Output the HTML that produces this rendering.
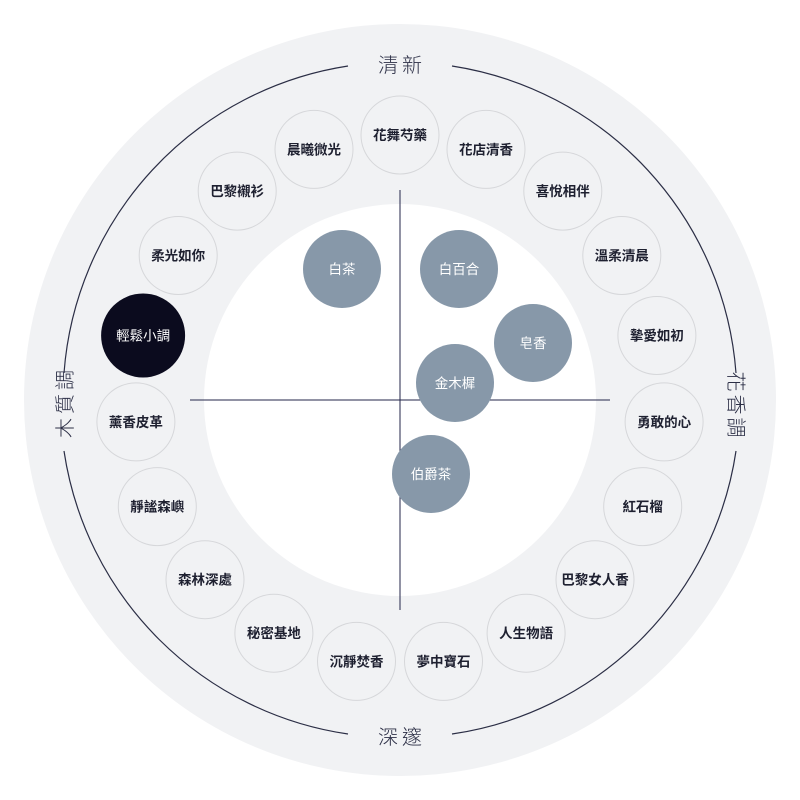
<!DOCTYPE html>
<html><head><meta charset="utf-8"><style>
html,body{margin:0;padding:0;background:#fff;}
svg{display:block;font-family:"Liberation Sans","Noto Sans CJK TC",sans-serif;}
</style></head><body>
<svg width="800" height="800" viewBox="0 0 800 800" xmlns="http://www.w3.org/2000/svg">
<circle cx="400" cy="400" r="376" fill="#f1f2f4"/>
<circle cx="400" cy="400" r="196" fill="#fff"/>
<g fill="none" stroke="#2b2e45" stroke-width="1.2">
<path d="M 348 66 A 336 336 0 0 0 64 373"/>
<path d="M 452 66 A 336 336 0 0 1 736 373"/>
<path d="M 64 451 A 336 336 0 0 0 348 734"/>
<path d="M 736 451 A 336 336 0 0 1 452 734"/>
</g>
<g fill="#2b2e45" font-size="20" font-weight="300" text-anchor="middle" letter-spacing="4">
<text x="402" y="72">清新</text>
<text x="402" y="744">深邃</text>
<text transform="translate(72,402) rotate(-90)">木質調</text>
<text transform="translate(729,406) rotate(90)" letter-spacing="3">花香調</text>
</g>
<g stroke="#23264a" stroke-width="1">
<line x1="400" y1="190" x2="400" y2="610"/>
<line x1="190" y1="400" x2="610" y2="400"/>
</g>
<g fill="#8798a9">
<circle cx="342" cy="269" r="39"/>
<circle cx="459" cy="269" r="39"/>
<circle cx="533" cy="343" r="39"/>
<circle cx="455" cy="383" r="39"/>
<circle cx="431" cy="474" r="39"/>
</g>
<g fill="#fff" font-size="13.5" text-anchor="middle">
<text x="342" y="274">白茶</text>
<text x="459" y="274">白百合</text>
<text x="533" y="348">皂香</text>
<text x="455" y="388">金木樨</text>
<text x="431" y="479">伯爵茶</text>
</g>
<g font-size="13.5" font-weight="bold" text-anchor="middle">
<circle cx="400.0" cy="135.0" r="39" fill="#f1f2f4" stroke="#d6d7da"/><text x="400.0" y="140.0" fill="#1e2030">花舞芍藥</text>
<circle cx="486.0" cy="149.4" r="39" fill="#f1f2f4" stroke="#d6d7da"/><text x="486.0" y="154.4" fill="#1e2030">花店清香</text>
<circle cx="562.8" cy="191.1" r="39" fill="#f1f2f4" stroke="#d6d7da"/><text x="562.8" y="196.1" fill="#1e2030">喜悅相伴</text>
<circle cx="621.8" cy="255.5" r="39" fill="#f1f2f4" stroke="#d6d7da"/><text x="621.8" y="260.5" fill="#1e2030">溫柔清晨</text>
<circle cx="656.9" cy="335.5" r="39" fill="#f1f2f4" stroke="#d6d7da"/><text x="656.9" y="340.5" fill="#1e2030">摯愛如初</text>
<circle cx="664.1" cy="421.9" r="39" fill="#f1f2f4" stroke="#d6d7da"/><text x="664.1" y="426.9" fill="#1e2030">勇敢的心</text>
<circle cx="642.7" cy="506.6" r="39" fill="#f1f2f4" stroke="#d6d7da"/><text x="642.7" y="511.6" fill="#1e2030">紅石榴</text>
<circle cx="595.0" cy="579.7" r="39" fill="#f1f2f4" stroke="#d6d7da"/><text x="595.0" y="584.7" fill="#1e2030">巴黎女人香</text>
<circle cx="526.1" cy="633.2" r="39" fill="#f1f2f4" stroke="#d6d7da"/><text x="526.1" y="638.2" fill="#1e2030">人生物語</text>
<circle cx="443.5" cy="661.4" r="39" fill="#f1f2f4" stroke="#d6d7da"/><text x="443.5" y="666.4" fill="#1e2030">夢中寶石</text>
<circle cx="356.5" cy="661.4" r="39" fill="#f1f2f4" stroke="#d6d7da"/><text x="356.5" y="666.4" fill="#1e2030">沉靜焚香</text>
<circle cx="273.9" cy="633.2" r="39" fill="#f1f2f4" stroke="#d6d7da"/><text x="273.9" y="638.2" fill="#1e2030">秘密基地</text>
<circle cx="205.0" cy="579.7" r="39" fill="#f1f2f4" stroke="#d6d7da"/><text x="205.0" y="584.7" fill="#1e2030">森林深處</text>
<circle cx="157.3" cy="506.6" r="39" fill="#f1f2f4" stroke="#d6d7da"/><text x="157.3" y="511.6" fill="#1e2030">靜謐森嶼</text>
<circle cx="135.9" cy="421.9" r="39" fill="#f1f2f4" stroke="#d6d7da"/><text x="135.9" y="426.9" fill="#1e2030">薰香皮革</text>
<circle cx="143.1" cy="335.5" r="42" fill="#0b0b1e"/><text x="143.1" y="340.5" fill="#fff" font-weight="normal">輕鬆小調</text>
<circle cx="178.2" cy="255.5" r="39" fill="#f1f2f4" stroke="#d6d7da"/><text x="178.2" y="260.5" fill="#1e2030">柔光如你</text>
<circle cx="237.2" cy="191.1" r="39" fill="#f1f2f4" stroke="#d6d7da"/><text x="237.2" y="196.1" fill="#1e2030">巴黎襯衫</text>
<circle cx="314.0" cy="149.4" r="39" fill="#f1f2f4" stroke="#d6d7da"/><text x="314.0" y="154.4" fill="#1e2030">晨曦微光</text>
</g>
</svg>
</body></html>
